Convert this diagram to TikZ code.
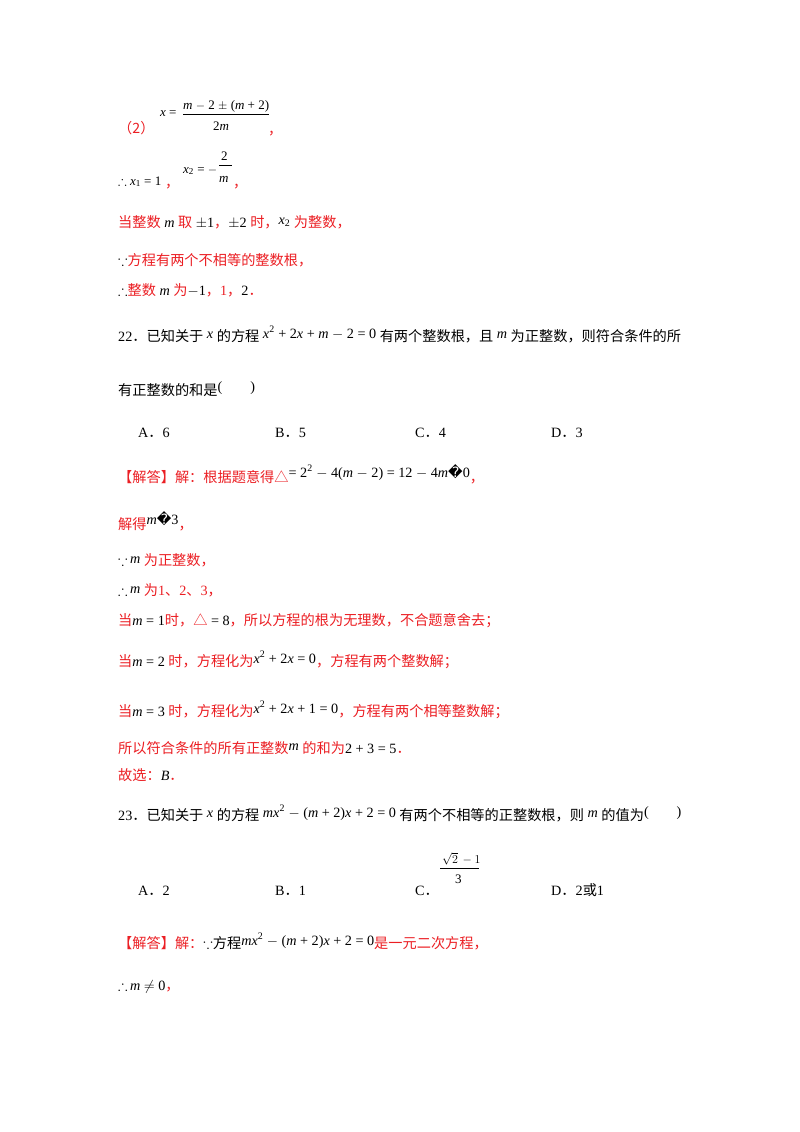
\documentclass[tikz,border=0pt]{standalone}
\usepackage{amssymb}
\usepackage{fontspec}
\setmainfont{Liberation Serif}
\newfontfamily\cjk{Noto Sans CJK SC}
\newfontfamily\dv{DejaVu Sans}
\definecolor{rd}{RGB}{235,30,35}
\newcommand{\R}[1]{\textcolor{rd}{\cjk #1}}
\newcommand{\mi}[1]{\textit{#1}}
\newcommand{\rep}{{\dv\char"FFFD}}
\newcommand{\pd}{{\cjk ．}}
\begin{document}
\begin{tikzpicture}[x=1pt,y=-1pt,every node/.style={anchor=base west,inner sep=0pt,font=\fontsize{14.2}{16}\selectfont},
 m/.style={font=\fontsize{13}{15}\selectfont}]
\useasboundingbox (0,0) rectangle (800,1132);
% (2)
\node (a1) at (118,133) {\R{（2）}};
\node[m] (a2) at (160,116) {\mi{x} =};
\node[m] (a3) at (183,109) {\mi{m} $-$ 2 $\pm$ (\mi{m} + 2)};
\draw (183,114) -- (269,114);
\node[m] (a4) at (213,130) {2\mi{m}};
\node (a5) at (268,134) {\R{，}};
% x1 x2
\node[m] (b1) at (118,185) {$\therefore$ \mi{x}\textsubscript{1} = 1};
\node (b2) at (165,187) {\R{，}};
\node[m] (b3) at (183,173) {\mi{x}\textsubscript{2} = $-$};
\node[m] (b4) at (221,160) {2};
\draw (219,165) -- (232,165);
\node[m] (b5) at (219,182) {\mi{m}};
\node (b6) at (233,187) {\R{，}};
% lines
\node (c1) at (118,227) {\R{当整数} \mi{m} \R{取} $\pm$1\R{，}$\pm$2 \R{时，}\raisebox{3pt}{\mi{x}\textsubscript{2}} \R{为整数，}};
\node (c2) at (118,265) {$\because$\R{方程有两个不相等的整数根，}};
\node (c3) at (118,295) {$\therefore$\R{整数} \mi{m} \R{为}$-$1\R{，}\textcolor{rd}{1}\R{，}2\R{．}};
\node (d1) at (118,341) {22{\cjk ．已知关于} \raisebox{3pt}{\mi{x}} {\cjk 的方程} \raisebox{3pt}{\mi{x}\textsuperscript{2} + 2\mi{x} + \mi{m} $-$ 2 = 0} {\cjk 有两个整数根，且} \raisebox{3pt}{\mi{m}} {\cjk 为正整数，则符合条件的所}};
\node (d2) at (118,395) {{\cjk 有正整数的和是}\raisebox{4pt}{(\hspace{28pt})}};
\node (o1) at (138,437) {A\pd 6};
\node (o2) at (275,437) {B\pd 5};
\node (o3) at (415,437) {C\pd 4};
\node (o4) at (551,437) {D\pd 3};
\node (e1) at (118,482) {\R{【解答】解：根据题意得△}\raisebox{5pt}{= 2\textsuperscript{2} $-$ 4(\mi{m} $-$ 2) = 12 $-$ 4\mi{m}\rep 0}\R{，}};
\node (e2) at (118,529) {\R{解得}\raisebox{5pt}{\mi{m}\rep 3}\R{，}};
\node (e3) at (118,565) {$\because$\,\raisebox{2pt}{\mi{m}} \R{为正整数，}};
\node (e4) at (118,595) {$\therefore$\,\raisebox{2pt}{\mi{m}} \R{为}\textcolor{rd}{1}\R{、}\textcolor{rd}{2}\R{、}\textcolor{rd}{3}\R{，}};
\node (e5) at (118,625) {\R{当}\mi{m} = 1\R{时，△} = 8\R{，所以方程的根为无理数，不合题意舍去；}};
\node (e6) at (118,666) {\R{当}\mi{m} = 2 \R{时，方程化为}\raisebox{3pt}{\mi{x}\textsuperscript{2} + 2\mi{x} = 0}\R{，方程有两个整数解；}};
\node (e7) at (118,716) {\R{当}\mi{m} = 3 \R{时，方程化为}\raisebox{3pt}{\mi{x}\textsuperscript{2} + 2\mi{x} + 1 = 0}\R{，方程有两个相等整数解；}};
\node (e8) at (118,753) {\R{所以符合条件的所有正整数}\raisebox{3pt}{\mi{m}} \R{的和为}2 + 3 = 5\R{．}};
\node (e9) at (118,780) {\R{故选：}\mi{B}\R{．}};
\node (f1) at (118,820) {23{\cjk ．已知关于} \raisebox{3pt}{\mi{x}} {\cjk 的方程} \raisebox{3pt}{\mi{mx}\textsuperscript{2} $-$ (\mi{m} + 2)\mi{x} + 2 = 0} {\cjk 有两个不相等的正整数根，则} \raisebox{3pt}{\mi{m}} {\cjk 的值为}\raisebox{4pt}{(\hspace{28pt})}};
\node (o5) at (138,895) {A\pd 2};
\node (o6) at (275,895) {B\pd 1};
\node (o7) at (415,895) {C\pd};
\node[m] (o8) at (442,863) {$\sqrt{2}\,-1$};
\draw (440,868) -- (479,868);
\node[m] (o9) at (455,883) {3};
\node (o10) at (551,895) {D\pd 2{\cjk 或}1};
\node (g1) at (118,948) {\R{【解答】解：}$\because${\cjk 方程}\raisebox{3pt}{\mi{mx}\textsuperscript{2} $-$ (\mi{m} + 2)\mi{x} + 2 = 0}\R{是一元二次方程，}};
\node (g2) at (118,990) {$\therefore$\,\mi{m} $\neq$ 0\R{，}};
\end{tikzpicture}
\end{document}
